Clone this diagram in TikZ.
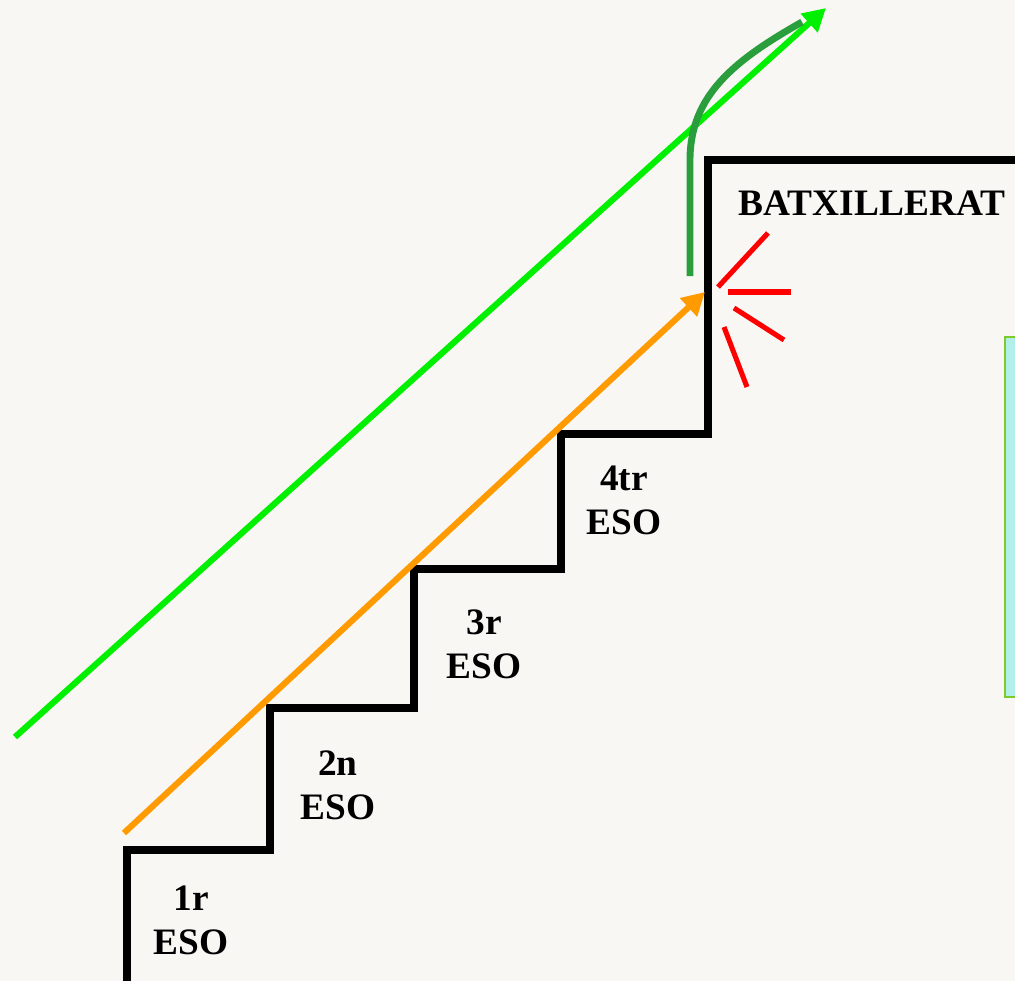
\documentclass[tikz,border=0pt]{standalone}
\usepackage{fontspec}
\setmainfont{Liberation Serif}
\usetikzlibrary{arrows.meta}
\definecolor{paper}{HTML}{F9F7F4}
\definecolor{brightgreen}{HTML}{00F000}
\definecolor{darkgreen}{HTML}{2A9E3C}
\definecolor{orangeline}{HTML}{FF9A00}
\definecolor{redline}{HTML}{FF0000}
\definecolor{boxfill}{HTML}{B2EFE8}
\definecolor{boxedge}{HTML}{7CCB2A}
\tikzset{
  stair/.style={line width=5.5pt, black, line join=miter},
  label/.style={font=\fontsize{28}{33}\selectfont\bfseries, align=center, inner sep=0pt},
  spark/.style={line width=3.8pt, redline},
  bigarrow/.style={line width=4.6pt, -{Triangle[length=17pt,width=18pt]}},
}
\begin{document}
\begin{tikzpicture}[x=0.75pt,y=-0.75pt]
\fill[paper] (0,0) rectangle (1015,981);
\useasboundingbox (0,0) rectangle (1015,981);
% side box
\draw[boxedge, fill=boxfill, line width=1.6pt] (1005,337) rectangle (1020,697);
% stairs
\draw[stair] (127,985) -- (127,850) -- (270,850) -- (270,708) -- (414,708) -- (414,569) -- (561,569) -- (561,434) -- (708,434) -- (708,160) -- (1020,160);
% labels
\node[label] (eso1) at (191,920) {1r\\ESO};
\node[label] (eso2) at (338,785) {2n\\ESO};
\node[label] (eso3) at (484,644) {3r\\ESO};
\node[label] (eso4) at (624,500) {4tr\\ESO};
\node[label] (batx) at (872,203) {BATXILLERAT};
% arrows
\coordinate (gs) at (15,737);
\coordinate (ge) at (826,8);
\coordinate (os) at (124,833);
\coordinate (oe) at (705,292);
\draw[bigarrow, brightgreen] (gs) -- (ge);
\draw[bigarrow, orangeline] (os) -- (oe);
\coordinate (ds) at (690,276);
\coordinate (de) at (802,22);
\draw[darkgreen, line width=5.2pt] (ds) -- (690,160) .. controls (690,95) and (735,60) .. (de);
% red spark
\coordinate (r1a) at (718,287); \coordinate (r1b) at (768,233);
\coordinate (r2a) at (728,292); \coordinate (r2b) at (791,292);
\coordinate (r3a) at (734,308); \coordinate (r3b) at (784,340);
\coordinate (r4a) at (724,327); \coordinate (r4b) at (747,387);
\draw[spark] (r1a) -- (r1b);
\draw[spark] (r2a) -- (r2b);
\draw[spark] (r3a) -- (r3b);
\draw[spark] (r4a) -- (r4b);
\end{tikzpicture}
\end{document}
